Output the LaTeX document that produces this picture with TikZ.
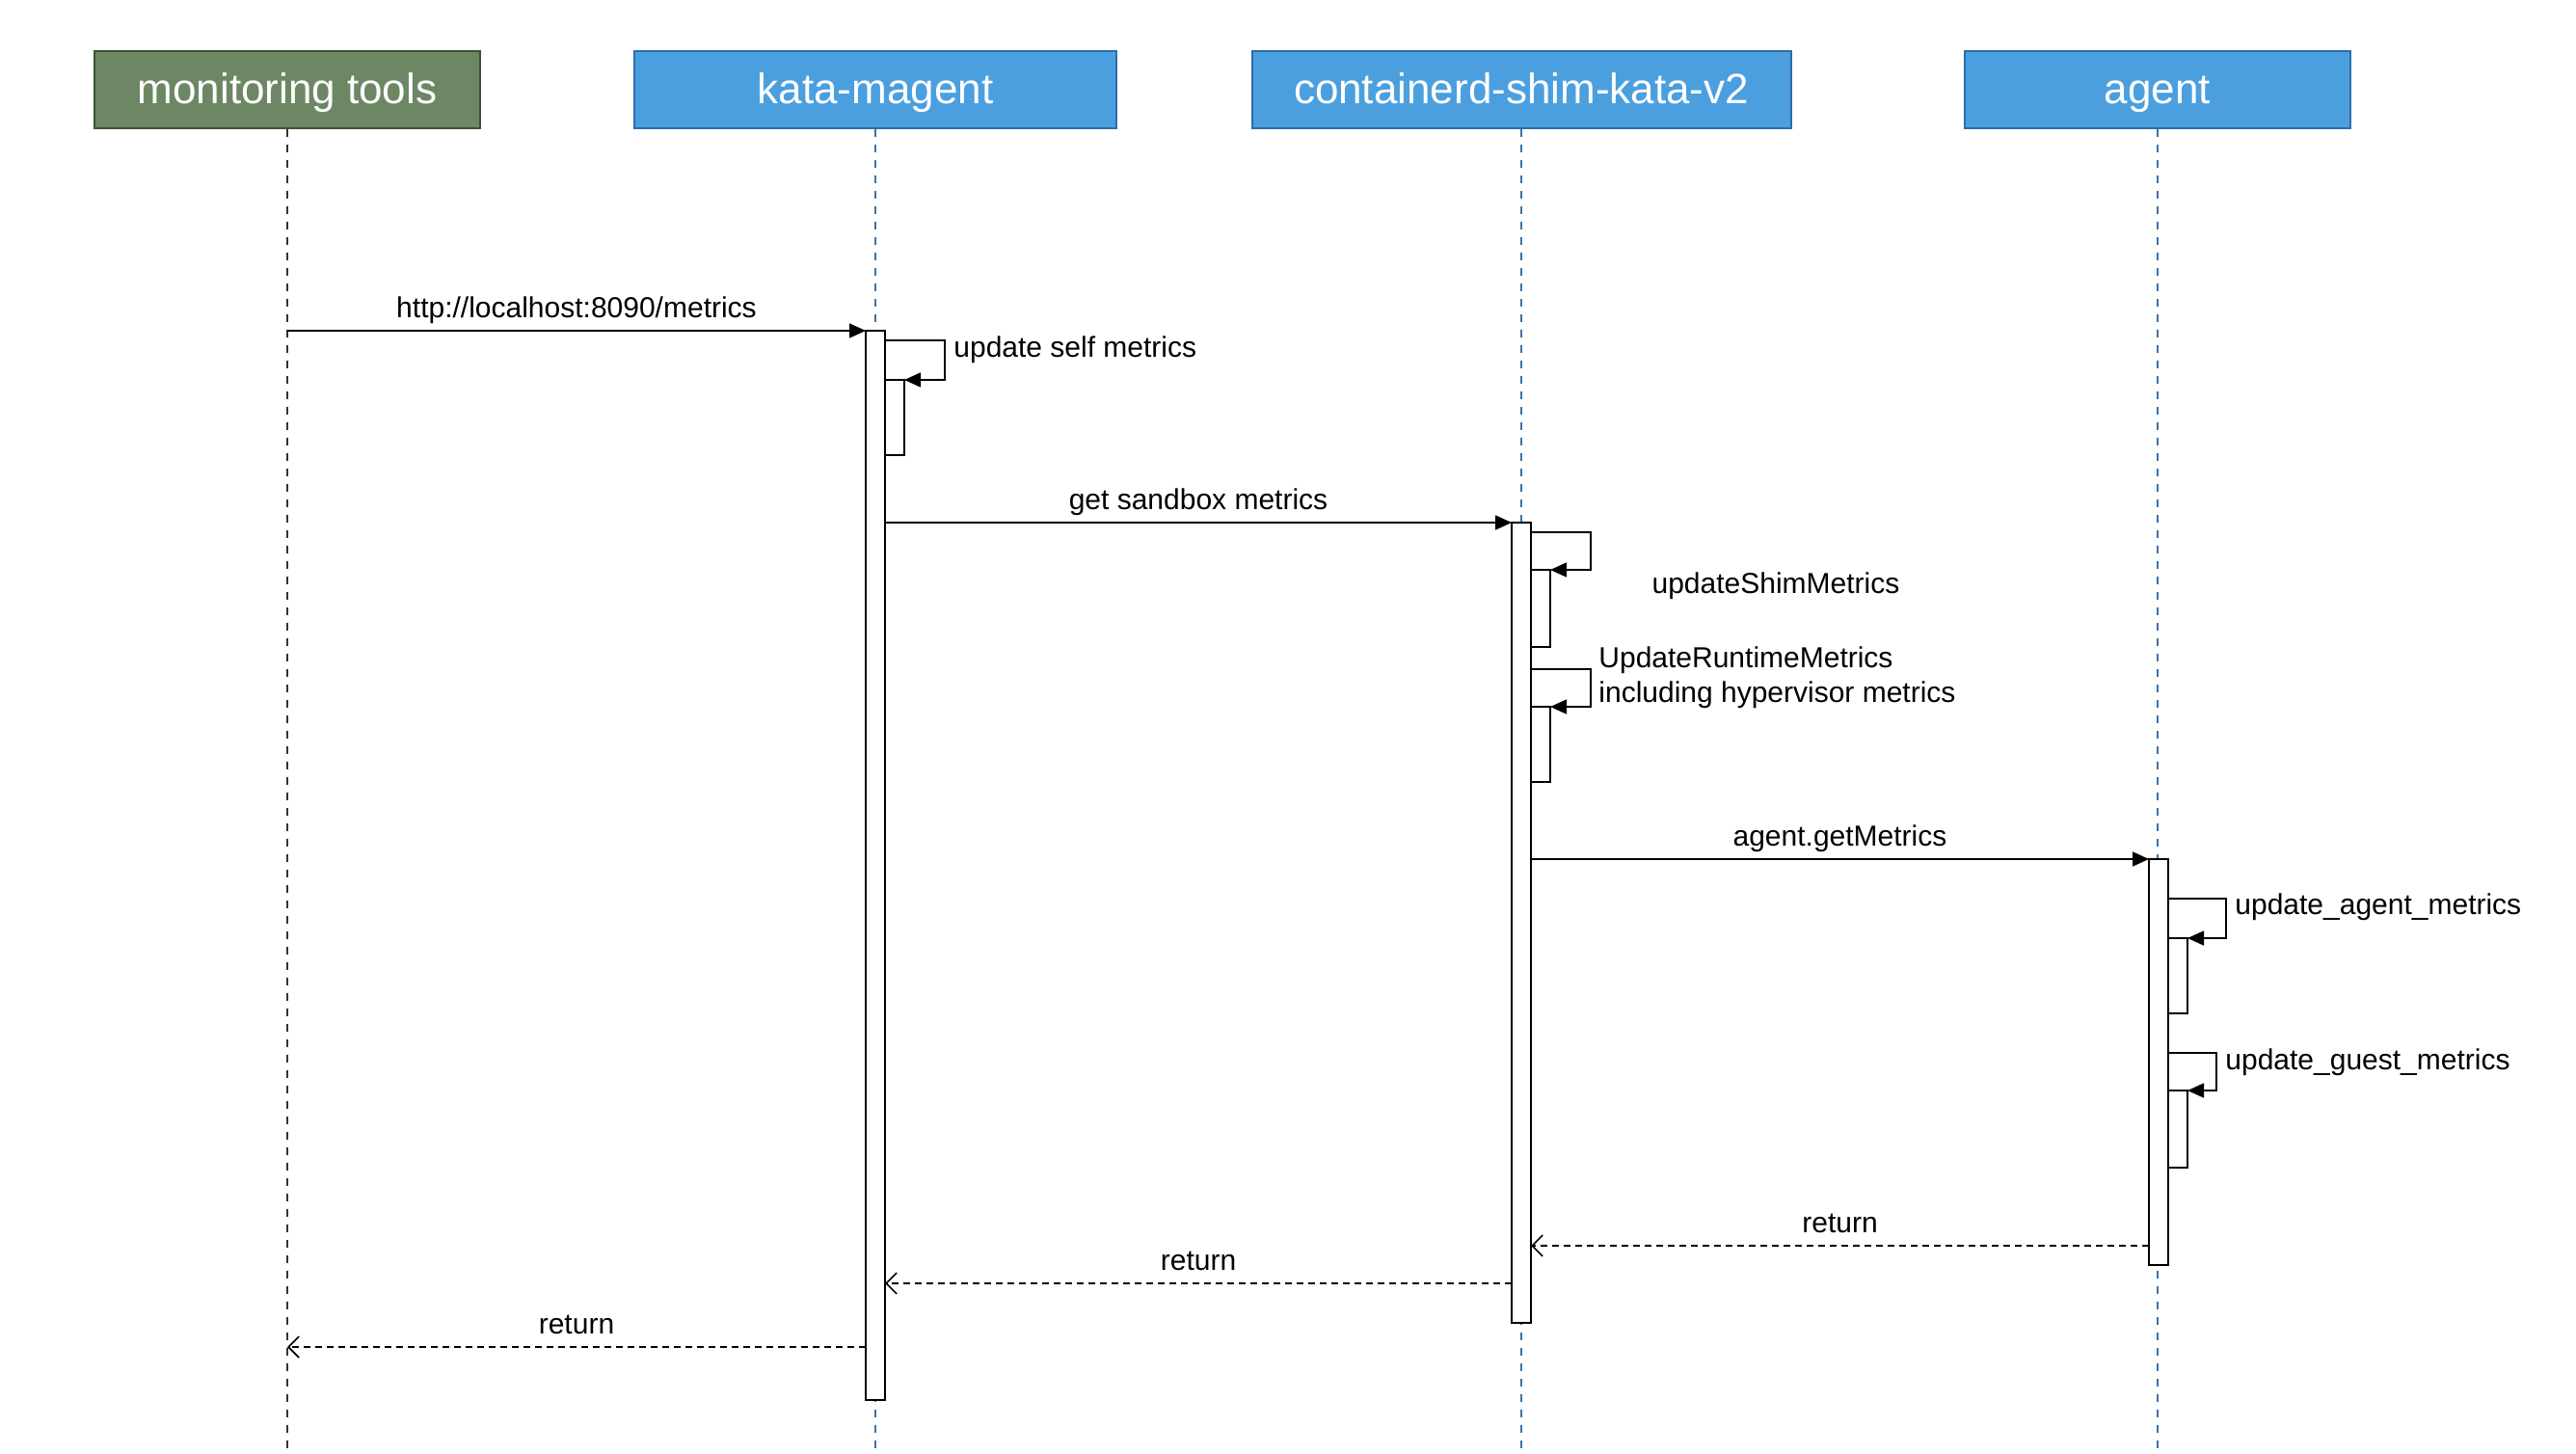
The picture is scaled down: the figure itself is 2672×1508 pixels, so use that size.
\documentclass[tikz,border=0pt]{standalone}
\usepackage{fontspec}
\setmainfont{Liberation Sans}
\usetikzlibrary{positioning, arrows.meta}

\definecolor{monfill}{HTML}{6D8764}
\definecolor{mondraw}{HTML}{3A5431}
\definecolor{bluefill}{HTML}{4B9FDF}
\definecolor{bluedraw}{HTML}{2D6DA8}
\definecolor{lifeblue}{HTML}{3A73A8}

\tikzset{
    header/.style={draw, line width=1pt, minimum height=40pt, text=white,
        font=\fontsize{22}{26}\selectfont, inner sep=0pt,
        text height=17.5pt, text depth=3pt},
    lifeline/.style={line width=0.6pt, dash pattern=on 4pt off 4pt},
    actbar/.style={draw, fill=white, line width=1pt, minimum width=10pt,
        inner sep=0pt, outer sep=0pt},
    msg/.style={line width=0.8pt, -{Triangle[length=8.5pt,width=7.5pt]}},
    ret/.style={line width=0.8pt, dash pattern=on 3.5pt off 2.5pt,
        -{Straight Barb[length=5.5pt,width=11pt]}},
    lbl/.style={font=\fontsize{15}{18}\selectfont, inner sep=3pt},
    edgelbl/.style={lbl, midway, above, text depth=3.2pt}
}

\begin{document}
\begin{tikzpicture}[x=0.5pt, y=-0.5pt]
    \useasboundingbox (0,0) rectangle (2672,1508);

    % participants
    \node[
        header,
        fill=monfill,
        draw=mondraw,
        minimum width=200pt] (monHead) at (298,93) {monitoring tools};
    \node[
        header,
        fill=bluefill,
        draw=bluedraw,
        minimum width=250pt] (magHead) at (908,93) {kata-magent};
    \node[
        header,
        fill=bluefill,
        draw=bluedraw,
        minimum width=279.5pt] (shimHead) at (1578,93) {containerd-shim-kata-v2};
    \node[
        header,
        fill=bluefill,
        draw=bluedraw,
        minimum width=200pt] (agentHead) at (2238,93) {agent};

    % lifelines
    \coordinate (bottom) at (0,1508);
    \draw[lifeline, draw=black!80] (monHead.south) -- (monHead.south |- bottom);
    \draw[lifeline, draw=lifeblue] (magHead.south) -- (magHead.south |- bottom);
    \draw[lifeline, draw=lifeblue] (shimHead.south) -- (shimHead.south |- bottom);
    \draw[lifeline, draw=lifeblue] (agentHead.south) -- (agentHead.south |- bottom);

    % activations
    \node[actbar, minimum height=554.5pt, anchor=north] (barMag) at (908,343) {};
    \node[actbar, minimum height=39pt, anchor=north west] (subMag) at (918,394) {};
    \node[actbar, minimum height=415pt, anchor=north] (barShim) at (1578,542) {};
    \node[actbar, minimum height=40pt, anchor=north west] (subShimA) at (1588,591) {};
    \node[actbar, minimum height=39pt, anchor=north west] (subShimB) at (1588,733) {};
    \node[actbar, minimum height=210.5pt, anchor=north] (barAgent) at (2239,891) {};
    \node[actbar, minimum height=39pt, anchor=north west] (subAgentA) at (2249,973) {};
    \node[actbar, minimum height=40pt, anchor=north west] (subAgentB) at (2249,1131) {};

    % calls
    \draw[msg] (monHead.south |- barMag.north) -- (barMag.north west)
    node[edgelbl]{http://localhost:8090/metrics};
    \draw[msg] (barMag.east |- barShim.north) -- (barShim.north west)
    node[edgelbl]{get sandbox metrics};
    \draw[msg] (barShim.east |- barAgent.north) -- (barAgent.north west)
    node[edgelbl]{agent.getMetrics};

    % self calls
    \draw[msg] (barMag.east |- 0,353) -| (980,394) -- (subMag.north east);
    \node[lbl, anchor=west] (selfLbl) at (983,363) {update self metrics};

    \draw[msg] (barShim.east |- 0,552) -| (1650,591) -- (subShimA.north east);
    \node[lbl] (shimLbl) at (1842,608) {updateShimMetrics};
    \draw[msg] (barShim.east |- 0,694) -| (1650,733) -- (subShimB.north east);
    \node[lbl, anchor=west, align=left] (runtimeLbl) at (1652,703)
        {UpdateRuntimeMetrics\\including hypervisor metrics};

    \draw[msg] (barAgent.east |- 0,932) -| (2309,973) -- (subAgentA.north east);
    \node[lbl, anchor=west] (agentLbl) at (2312,941) {update\_agent\_metrics};
    \draw[msg] (barAgent.east |- 0,1092) -| (2299,1131) -- (subAgentB.north east);
    \node[lbl, anchor=west] (guestLbl) at (2302,1102) {update\_guest\_metrics};

    % returns
    \coordinate (retA) at (2229,1292);
    \coordinate (retB) at (1568,1331);
    \coordinate (retC) at (898,1397);
    \draw[ret] (retA) -- (barShim.east |- retA)
    node[edgelbl]{return};
    \draw[ret] (retB) -- (barMag.east |- retB)
    node[edgelbl]{return};
    \draw[ret] (retC) -- (monHead.south |- retC)
    node[edgelbl]{return};
\end{tikzpicture}
\end{document}
